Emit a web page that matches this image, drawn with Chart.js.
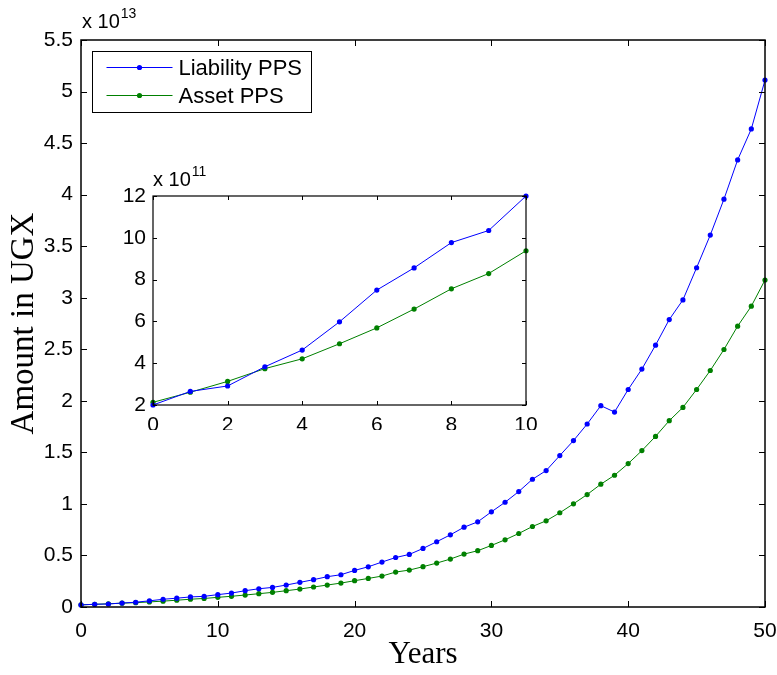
<!DOCTYPE html>
<html>
<head>
<meta charset="utf-8">
<script src="https://cdn.jsdelivr.net/npm/chart.js@4.4.0/dist/chart.umd.min.js"></script>
<style>
  html, body { margin: 0; padding: 0; background: #fff; }
  #wrap { position: relative; width: 777px; height: 675px; }
  #mainChart { position: absolute; left: 0; top: 0; width: 777px; height: 675px; }
  #insetChart { position: absolute; left: 100px; top: 150px; width: 440px; height: 300px; }
</style>
</head>
<body>
<div id="wrap">
  <canvas id="mainChart" width="777" height="675"></canvas>
  <canvas id="insetChart" width="440" height="300"></canvas>
</div>
<script>
// Years on the main chart
var years = [0, 1, 2, 3, 4, 5, 6, 7, 8, 9, 10,
  11, 12, 13, 14, 15, 16, 17, 18, 19, 20,
  21, 22, 23, 24, 25, 26, 27, 28, 29, 30,
  31, 32, 33, 34, 35, 36, 37, 38, 39, 40,
  41, 42, 43, 44, 45, 46, 47, 48, 49, 50];

// Amounts in units of 10^13 UGX
var liabilityPPS = [0.0200, 0.0265, 0.0291, 0.0383, 0.0463, 0.0598, 0.0750, 0.0856, 0.0977, 0.1035, 0.1200,
  0.135, 0.158, 0.177, 0.190, 0.213, 0.239, 0.265, 0.294, 0.313, 0.355,
  0.390, 0.436, 0.480, 0.510, 0.568, 0.633, 0.700, 0.774, 0.826, 0.923,
  1.016, 1.120, 1.239, 1.323, 1.469, 1.614, 1.775, 1.953, 1.891, 2.110,
  2.308, 2.540, 2.788, 2.979, 3.291, 3.608, 3.956, 4.337, 4.637, 5.111];

var assetPPS = [0.0213, 0.0261, 0.0313, 0.0374, 0.0421, 0.0493, 0.0569, 0.0659, 0.0756, 0.0829, 0.0938,
  0.104, 0.116, 0.129, 0.142, 0.158, 0.174, 0.194, 0.213, 0.232, 0.255,
  0.277, 0.300, 0.339, 0.358, 0.391, 0.426, 0.465, 0.513, 0.546, 0.597,
  0.652, 0.713, 0.781, 0.836, 0.914, 1.001, 1.091, 1.191, 1.278, 1.391,
  1.517, 1.655, 1.807, 1.936, 2.110, 2.294, 2.498, 2.724, 2.918, 3.172];

// Inset: first ten years, in units of 10^11 UGX
var insetYears = [0, 1, 2, 3, 4, 5, 6, 7, 8, 9, 10];
var insetLiability = [2.00, 2.65, 2.91, 3.83, 4.63, 5.98, 7.50, 8.56, 9.77, 10.35, 12.00];
var insetAsset = [2.13, 2.61, 3.13, 3.74, 4.21, 4.93, 5.69, 6.59, 7.56, 8.29, 9.38];

// Tick values
var mainXTicks = [0, 10, 20, 30, 40, 50];
var mainYTicks = [0, 0.5, 1, 1.5, 2, 2.5, 3, 3.5, 4, 4.5, 5, 5.5];
var insetXTicks = [0, 2, 4, 6, 8, 10];
var insetYTicks = [2, 4, 6, 8, 10, 12];

var mainExponent = '13';
var insetExponent = '11';

var SANS = "'Liberation Sans', Arial, Helvetica, sans-serif";
var SERIF = "'Liberation Serif', 'Times New Roman', serif";

Chart.defaults.font.family = SANS;
Chart.defaults.color = '#000';

function toPoints(xs, ys) {
  var pts = [];
  for (var i = 0; i < xs.length; i++) {
    pts.push({ x: xs[i], y: ys[i] });
  }
  return pts;
}

function fixedTicks(values) {
  return function (scale) {
    scale.ticks = values.map(function (v) { return { value: v }; });
  };
}

// fixed axis size, and no extra room for the end labels
function fixedHeight(h) {
  return function (s) {
    s.height = h;
    s.paddingLeft = 0;
    s.paddingRight = 0;
  };
}
function fixedWidth(w) {
  return function (s) {
    s.width = w;
    s.paddingTop = 0;
    s.paddingBottom = 0;
  };
}

function lineDataset(label, data, color) {
  return {
    label: label,
    data: data,
    borderColor: color,
    backgroundColor: color,
    borderWidth: 1,
    pointRadius: 2.6,
    pointBorderWidth: 0,
    pointHoverRadius: 2.6,
    tension: 0,
    clip: false
  };
}

// Draw a MATLAB style box with inward ticks on all four sides
function drawBox(chart, tickLen, boxWidth) {
  var ctx = chart.ctx;
  var a = chart.chartArea;
  var xs = chart.scales.x;
  var ys = chart.scales.y;
  ctx.save();
  ctx.strokeStyle = '#000';
  ctx.lineWidth = 1;
  ctx.beginPath();
  xs.ticks.forEach(function (t) {
    var px = Math.round(xs.getPixelForValue(t.value)) + 0.5;
    ctx.moveTo(px, a.bottom);
    ctx.lineTo(px, a.bottom - tickLen);
    ctx.moveTo(px, a.top);
    ctx.lineTo(px, a.top + tickLen);
  });
  ys.ticks.forEach(function (t) {
    var py = Math.round(ys.getPixelForValue(t.value)) + 0.5;
    ctx.moveTo(a.left, py);
    ctx.lineTo(a.left + tickLen, py);
    ctx.moveTo(a.right, py);
    ctx.lineTo(a.right - tickLen, py);
  });
  ctx.stroke();
  ctx.lineWidth = boxWidth;
  ctx.strokeRect(a.left, a.top, a.right - a.left, a.bottom - a.top);
  ctx.restore();
}

function drawExponent(chart, exp, dx, baseY) {
  var ctx = chart.ctx;
  var a = chart.chartArea;
  ctx.save();
  ctx.fillStyle = '#000';
  ctx.textBaseline = 'alphabetic';
  ctx.textAlign = 'left';
  ctx.font = '20px ' + SANS;
  var base = 'x 10';
  ctx.fillText(base, a.left + dx, a.top - baseY);
  var w = ctx.measureText(base).width;
  ctx.font = '14px ' + SANS;
  ctx.fillText(exp, a.left + dx + w + 1, a.top - baseY - 10);
  ctx.restore();
}

var mainPlugin = {
  id: 'mainDecor',
  afterDatasetsDraw: function (chart) {
    drawBox(chart, 6, 1.5);
    drawExponent(chart, mainExponent, 1, 12);

    // legend in the upper left corner
    var ctx = chart.ctx;
    var a = chart.chartArea;
    var bx = a.left + 11.5, by = a.top + 11.5, bw = 219, bh = 61;
    ctx.save();
    ctx.fillStyle = '#fff';
    ctx.fillRect(bx, by, bw, bh);
    ctx.strokeStyle = '#000';
    ctx.lineWidth = 1;
    ctx.strokeRect(bx, by, bw, bh);
    ctx.font = '22px ' + SANS;
    ctx.textBaseline = 'middle';
    ctx.textAlign = 'left';
    chart.data.datasets.forEach(function (ds, i) {
      var ry = by + 16 + i * 28;
      ctx.strokeStyle = ds.borderColor;
      ctx.beginPath();
      ctx.moveTo(bx + 14, ry);
      ctx.lineTo(bx + 80, ry);
      ctx.stroke();
      ctx.fillStyle = ds.borderColor;
      ctx.beginPath();
      ctx.arc(bx + 47, ry, 2.6, 0, Math.PI * 2);
      ctx.fill();
      ctx.fillStyle = '#000';
      ctx.fillText(ds.label, bx + 86, ry + 1);
    });
    ctx.restore();
  }
};

var insetPlugin = {
  id: 'insetDecor',
  beforeDatasetsDraw: function (chart) {
    var a = chart.chartArea;
    chart.ctx.save();
    chart.ctx.fillStyle = '#fff';
    chart.ctx.fillRect(a.left, a.top, a.right - a.left, a.bottom - a.top);
    chart.ctx.restore();
  },
  afterDatasetsDraw: function (chart) {
    drawBox(chart, 4, 1.2);
    drawExponent(chart, insetExponent, 0, 10);
  }
};

var mainChart = new Chart(document.getElementById('mainChart').getContext('2d'), {
  type: 'line',
  data: {
    datasets: [
      lineDataset('Liability PPS', toPoints(years, liabilityPPS), '#0000ff'),
      lineDataset('Asset PPS', toPoints(years, assetPPS), '#008000')
    ]
  },
  options: {
    responsive: false,
    animation: false,
    layout: { padding: { top: 40, right: 12, left: 0, bottom: 0 } },
    plugins: { legend: { display: false }, tooltip: { enabled: false } },
    scales: {
      x: {
        type: 'linear',
        min: 0,
        max: 50,
        afterBuildTicks: fixedTicks(mainXTicks),
        afterFit: fixedHeight(68),
        grid: { display: false, drawTicks: false },
        border: { display: false },
        ticks: { color: '#000', font: { size: 21 }, padding: 12, maxRotation: 0,
          callback: function (v) { return String(v); } },
        title: { display: true, text: 'Years', color: '#000',
          font: { family: SERIF, size: 31 }, padding: { top: 0, bottom: 2 } }
      },
      y: {
        type: 'linear',
        min: 0,
        max: 5.5,
        afterBuildTicks: fixedTicks(mainYTicks),
        afterFit: fixedWidth(81),
        grid: { display: false, drawTicks: false },
        border: { display: false },
        ticks: { color: '#000', font: { size: 21 }, padding: 8,
          callback: function (v) { return String(v); } },
        title: { display: true, text: 'Amount in UGX', color: '#000',
          font: { family: SERIF, size: 33 }, padding: { top: 5, bottom: 0 } }
      }
    }
  },
  plugins: [mainPlugin]
});

var insetChart = new Chart(document.getElementById('insetChart').getContext('2d'), {
  type: 'line',
  data: {
    datasets: [
      lineDataset('Liability PPS', toPoints(insetYears, insetLiability), '#0000ff'),
      lineDataset('Asset PPS', toPoints(insetYears, insetAsset), '#008000')
    ]
  },
  options: {
    responsive: false,
    animation: false,
    layout: { padding: { top: 46, right: 14, left: 0, bottom: 20 } },
    plugins: { legend: { display: false }, tooltip: { enabled: false } },
    scales: {
      x: {
        type: 'linear',
        min: 0,
        max: 10,
        afterBuildTicks: fixedTicks(insetXTicks),
        afterFit: fixedHeight(25),
        grid: { display: false, drawTicks: false },
        border: { display: false },
        ticks: { color: '#000', font: { size: 21 }, padding: 8, maxRotation: 0,
          callback: function (v) { return String(v); } }
      },
      y: {
        type: 'linear',
        min: 2,
        max: 12,
        afterBuildTicks: fixedTicks(insetYTicks),
        afterFit: fixedWidth(53),
        grid: { display: false, drawTicks: false },
        border: { display: false },
        ticks: { color: '#000', font: { size: 21 }, padding: 7,
          callback: function (v) { return String(v); } }
      }
    }
  },
  plugins: [insetPlugin]
});
</script>
</body>
</html>
